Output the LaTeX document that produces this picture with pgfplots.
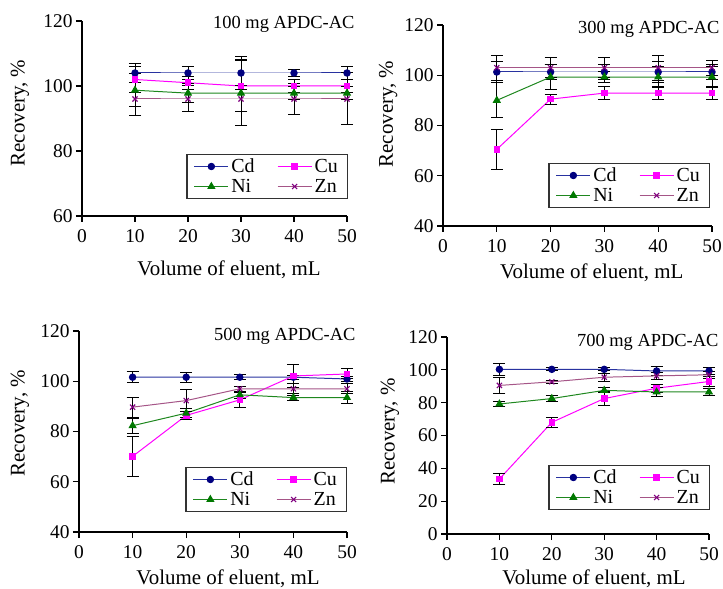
\documentclass[border=0pt]{standalone}
\usepackage{fontspec}
\setmainfont{Liberation Serif}
\usepackage{pgfplots}
\pgfplotsset{compat=1.18}
\definecolor{cdline}{RGB}{40,50,160}
\definecolor{cdmark}{RGB}{0,0,128}
\definecolor{culine}{RGB}{255,0,255}
\definecolor{nicol}{RGB}{30,135,30}
\definecolor{nimark}{RGB}{0,120,0}
\definecolor{znline}{RGB}{165,85,135}
\definecolor{znmark}{RGB}{128,0,128}
\definecolor{legframe}{RGB}{50,50,50}
\newcommand{\tickfont}{\fontsize{19.5}{22}\selectfont}
\pgfplotsset{
  panel/.style={
    scale only axis, anchor=south west, clip=false,
    xmin=0, xmax=50, xtick={0,10,20,30,40,50},
    axis x line=bottom, axis y line=left,
    axis line style={-, line width=1.1pt, black},
    every outer x axis line/.append style={-},
    every outer y axis line/.append style={-},
    tick align=outside, major tick length=6bp,
    tick style={line width=1.1pt, black},
    /pgf/number format/assume math mode=true,
    xticklabel={\tickfont\pgfmathprintnumber{\tick}},
    yticklabel={\tickfont\pgfmathprintnumber{\tick}},
    every tick label/.append style={font=\tickfont},
    xticklabel style={yshift=-4bp},
    label style={font=\fontsize{21}{24}\selectfont, inner sep=0pt},
    xlabel={Volume of eluent, mL}, ylabel={Recovery, \%},
    legend columns=2, legend cell align=left,
    legend style={draw=legframe, line width=1.3pt, fill=white,
      font=\fontsize{20}{22}\selectfont,
      inner xsep=7bp, inner ysep=3.5bp, anchor=south east, row sep=3bp,
      /tikz/every even column/.append style={column sep=20bp},
      nodes={inner xsep=2.5bp, inner ysep=1bp}},
    legend image code/.code={\draw[mark repeat=2,mark phase=2,##1] plot coordinates {(0bp,0bp) (17bp,0bp) (34bp,0bp)};},
  },
  cdst/.style={color=cdline, line width=1pt, mark=*, mark size=3.2bp, mark options={solid, fill=cdmark, draw=cdmark}},
  cust/.style={color=culine, line width=1pt, mark=square*, mark size=2.8bp, mark options={solid, fill=culine, draw=culine}},
  nist/.style={color=nicol, line width=1pt, mark=triangle*, mark size=3.8bp, mark options={solid, fill=nimark, draw=nimark}},
  znst/.style={color=znline, line width=1pt, mark=x, mark size=3.6bp, mark options={solid, draw=znmark, line width=1.1pt}},
  errst/.style={/pgfplots/error bars/y dir=both, /pgfplots/error bars/y explicit,
    /pgfplots/error bars/error bar style={line width=1pt, black, solid},
    /pgfplots/error bars/error mark options={rotate=90, mark size=6bp, line width=1pt, black}},
}
\begin{document}
\begin{tikzpicture}
\useasboundingbox (0,0) rectangle (723bp,589bp);
% ---------- 100 mg ----------
\begin{axis}[panel, at={(82bp,373bp)}, width=265bp, height=195bp,
  ymin=60, ymax=120, ytick={60,80,100,120},
  xlabel style={at={(axis description cs:0.555,-0.277)}, anchor=center},
  ylabel style={at={(axis description cs:-0.234,0.528)}, anchor=center},
  legend style={at={(1,0)}, xshift=1bp, yshift=17bp}]
\addplot[cdst, errst] table[x=x,y=y,y error=e]{
x y e
10 104 3
20 104 2
30 104 5
40 104 1
50 104 2
};
\addplot[cust, errst] table[x=x,y=y,y error=e]{
x y e
10 102 4
20 101 2
30 100 8
40 100 2
50 100 2
};
\addplot[nist, errst] table[x=x,y=y,y error=e]{
x y e
10 98.7 5
20 97.8 3
30 97.8 10
40 97.8 2
50 97.8 2
};
\addplot[znst, errst] table[x=x,y=y,y error=e]{
x y e
10 96 5
20 96 4
30 96 4
40 96 4.7
50 96 8
};
\legend{Cd,Cu,Ni,Zn}
\node[anchor=base east, font=\fontsize{18.5}{22}\selectfont] at ([xshift=11bp,yshift=-8bp]rel axis cs:1,1) {100 mg APDC-AC};
\end{axis}
% ---------- 300 mg ----------
\begin{axis}[panel, at={(443bp,363bp)}, width=269bp, height=201bp,
  ymin=40, ymax=120, ytick={40,60,80,100,120},
  xlabel style={at={(axis description cs:0.553,-0.234)}, anchor=center},
  ylabel style={at={(axis description cs:-0.204,0.557)}, anchor=center},
  legend style={at={(1,0)}, xshift=-2bp, yshift=18bp}]
\addplot[cdst, errst] table[x=x,y=y,y error=e]{
x y e
10 101.3 4
20 101.3 3
30 101.3 3
40 101.3 4
50 101.3 3
};
\addplot[cust, errst] table[x=x,y=y,y error=e]{
x y e
10 70.5 8
20 90.5 2
30 92.9 2.5
40 92.9 2.5
50 92.9 2.5
};
\addplot[nist, errst] table[x=x,y=y,y error=e]{
x y e
10 90 7
20 99.3 5
30 99.3 2
40 99.3 4
50 99.3 4
};
\addplot[znst, errst] table[x=x,y=y,y error=e]{
x y e
10 103 5
20 103 4
30 103 4
40 103 5
50 103 3
};
\legend{Cd,Cu,Ni,Zn}
\node[anchor=base east, font=\fontsize{18.5}{22}\selectfont] at ([xshift=11bp,yshift=-8bp]rel axis cs:1,1) {300 mg APDC-AC};
\end{axis}
% ---------- 500 mg ----------
\begin{axis}[panel, at={(79bp,57bp)}, width=268bp, height=201bp,
  ymin=40, ymax=120, ytick={40,60,80,100,120},
  xlabel style={at={(axis description cs:0.556,-0.235)}, anchor=center},
  ylabel style={at={(axis description cs:-0.22,0.54)}, anchor=center},
  legend style={at={(1,0)}, xshift=0bp, yshift=20bp}]
\addplot[cdst, errst] table[x=x,y=y,y error=e]{
x y e
10 101.6 2.2
20 101.6 2
30 101.6 1
40 101.6 0.8
50 100.9 1
};
\addplot[cust, errst] table[x=x,y=y,y error=e]{
x y e
10 70.1 8
20 86.4 1.5
30 92.6 3
40 102.1 4.5
50 102.9 2
};
\addplot[nist, errst] table[x=x,y=y,y error=e]{
x y e
10 82.3 3
20 87.3 1.8
30 94.6 1.5
40 93.5 1
50 93.5 2.5
};
\addplot[znst, errst] table[x=x,y=y,y error=e]{
x y e
10 89.7 4
20 92.3 4.5
30 97 1
40 97 2
50 97 2
};
\legend{Cd,Cu,Ni,Zn}
\node[anchor=base east, font=\fontsize{18.5}{22}\selectfont] at ([xshift=12bp,yshift=-9bp]rel axis cs:1,1) {500 mg APDC-AC};
\end{axis}
% ---------- 700 mg ----------
\begin{axis}[panel, at={(447bp,55bp)}, width=262bp, height=197bp,
  ymin=0, ymax=120, ytick={0,20,40,60,80,100,120},
  xlabel style={at={(axis description cs:0.561,-0.229)}, anchor=center},
  ylabel style={at={(axis description cs:-0.218,0.52)}, anchor=center},
  legend style={at={(1,0)}, xshift=1bp, yshift=24bp}]
\addplot[cdst, errst] table[x=x,y=y,y error=e]{
x y e
10 100.3 3.5
20 100.3 1
30 100.3 1
40 99.3 2.5
50 99.3 2
};
\addplot[cust, errst] table[x=x,y=y,y error=e]{
x y e
10 33.5 3.5
20 68 3
30 82.5 4
40 88.8 2.5
50 92.9 3
};
\addplot[nist, errst] table[x=x,y=y,y error=e]{
x y e
10 79.2 1.5
20 82.5 2
30 87.5 1.5
40 86.5 2.5
50 86.5 2
};
\addplot[znst, errst] table[x=x,y=y,y error=e]{
x y e
10 90.5 5
20 92.7 1
30 95.5 2.5
40 96.3 2
50 97 2
};
\legend{Cd,Cu,Ni,Zn}
\node[anchor=base east, font=\fontsize{18.5}{22}\selectfont] at ([xshift=13bp,yshift=-10bp]rel axis cs:1,1) {700 mg APDC-AC};
\end{axis}
\end{tikzpicture}
\end{document}
